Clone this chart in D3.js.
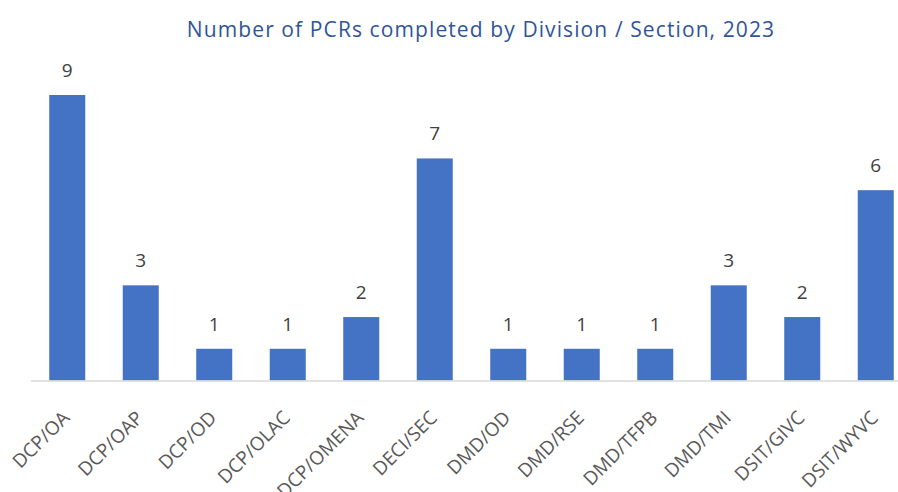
<!DOCTYPE html>
<html>
<head>
<meta charset="utf-8">
<script src="https://cdn.jsdelivr.net/npm/d3@7"></script>
<style>
  body { margin: 0; background: #fff; }
  svg { display: block; }
</style>
</head>
<body>
<div id="chart"></div>
<script>
// data
const divisions = ["DCP/OA", "DCP/OAP", "DCP/OD", "DCP/OLAC", "DCP/OMENA", "DECI/SEC",
  "DMD/OD", "DMD/RSE", "DMD/TFPB", "DMD/TMI", "DSIT/GIVC", "DSIT/WYVC"]
const pcrCounts = [9, 3, 1, 1, 2, 7, 1, 1, 1, 3, 2, 6]
const chartTitle = "Number of PCRs completed by Division / Section, 2023"

const W = 898, H = 492

const svg = d3.select("#chart").append("svg")
  .attr("width", W)
  .attr("height", H)

// title
svg.append("text")
  .attr("x", 481)
  .attr("y", 37)
  .attr("text-anchor", "middle")
  .style("font-family", "'Open Sans', sans-serif")
  .style("font-size", "21px")
  .style("letter-spacing", "1.1px")
  .style("fill", "#2F5597")
  .text(chartTitle)

const x = d3.scaleBand()
  .domain(divisions)
  .range([30.5, 912.5])
  .paddingInner(0.51)
  .paddingOuter(0.255)

const y = d3.scaleLinear()
  .domain([0, 9])
  .range([380.5, 95])

// bars
svg.append("g")
  .selectAll("rect")
  .data(divisions)
  .enter()
  .append("rect")
  .attr("x", function (d) { return x(d) })
  .attr("y", function (d, i) { return y(pcrCounts[i]) })
  .attr("width", x.bandwidth())
  .attr("height", function (d, i) { return y(0) - y(pcrCounts[i]) })
  .style("fill", "#4472C4")

// baseline
svg.append("line")
  .attr("x1", 31).attr("x2", 912)
  .attr("y1", y(0) + 0.5).attr("y2", y(0) + 0.5)
  .style("stroke", "#D9D9D9")
  .style("stroke-width", 1.5)

// value labels
svg.append("g")
  .selectAll("text")
  .data(divisions)
  .enter()
  .append("text")
  .attr("x", function (d) { return x(d) + x.bandwidth() / 2 })
  .attr("y", function (d, i) { return y(pcrCounts[i]) - 18 })
  .attr("text-anchor", "middle")
  .style("font-family", "'Open Sans', sans-serif")
  .style("font-size", "19px")
  .style("fill", "#404040")
  .text(function (d, i) { return pcrCounts[i] })

// x axis labels, rotated
const xAxis = svg.append("g")
  .attr("transform", "translate(0," + y(0) + ")")
  .call(d3.axisBottom(x).tickSize(0).tickPadding(0))
xAxis.select(".domain").remove()
xAxis.selectAll("text")
  .attr("text-anchor", "end")
  .attr("transform", "translate(-6,29) rotate(-45)")
  .attr("dy", "0.71em")
  .style("font-family", "'Open Sans', sans-serif")
  .style("font-size", "19px")
  .style("fill", "#595959")
</script>
</body>
</html>
